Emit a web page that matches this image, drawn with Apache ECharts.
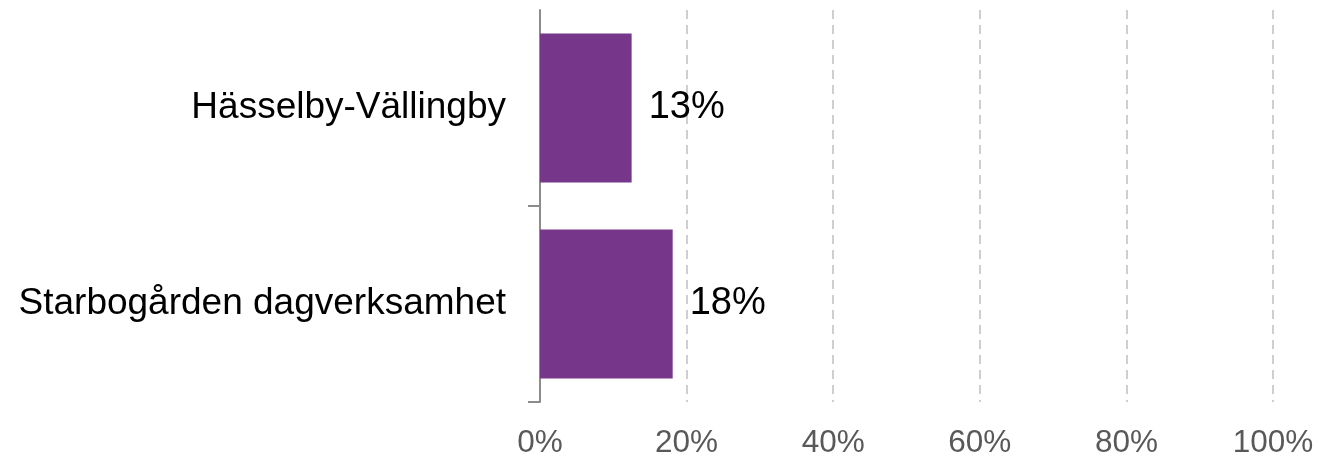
<!DOCTYPE html>
<html>
<head>
<meta charset="utf-8">
<script src="https://cdn.jsdelivr.net/npm/echarts@6/dist/echarts.min.js"></script>
<style>
html,body{margin:0;padding:0;background:#fff;}
#chart{width:1335px;height:456px;}
</style>
</head>
<body>
<div id="chart"></div>
<script>
const categories = ['Hässelby-Vällingby', 'Starbogården dagverksamhet'];
const values = [12.5, 18.1];
const xTicks = [0, 20, 40, 60, 80, 100];

const chart = echarts.init(document.getElementById('chart'), null, {renderer: 'canvas'});
chart.setOption({
  animation: false,
  backgroundColor: '#ffffff',
  grid: {left: 540, right: 62, top: 10, bottom: 54, containLabel: false, outerBoundsMode: 'none'},
  xAxis: {
    type: 'value',
    min: xTicks[0],
    max: xTicks[xTicks.length - 1],
    interval: xTicks[1] - xTicks[0],
    axisLine: {show: false},
    axisTick: {show: false},
    axisLabel: {
      formatter: '{value}%',
      color: '#595959',
      fontFamily: 'Liberation Sans, Arial, sans-serif',
      fontSize: 31.5,
      margin: 25
    },
    splitLine: {
      show: true,
      lineStyle: {color: '#c0c0c0', width: 1.5, type: [9, 6]}
    }
  },
  yAxis: [{
    type: 'category',
    inverse: true,
    data: categories,
    axisLine: {show: true, lineStyle: {color: '#8c8c8c', width: 2}},
    axisTick: {show: false},
    axisLabel: {
      color: '#000000',
      fontFamily: 'Liberation Sans, Arial, sans-serif',
      fontSize: 37,
      margin: 34
    },
    splitLine: {show: false}
  }, {
    type: 'value',
    position: 'left',
    inverse: true,
    min: 0,
    max: categories.length,
    interval: 1,
    axisLine: {show: false},
    axisTick: {
      show: true, length: 12,
      customValues: categories.map((c, i) => i + 1),
      lineStyle: {color: '#8c8c8c', width: 2}
    },
    axisLabel: {show: false},
    splitLine: {show: false}
  }],
  series: [{
    type: 'bar',
    yAxisIndex: 0,
    data: values,
    barCategoryGap: '24%',
    itemStyle: {color: '#76378a'},
    label: {
      show: true,
      position: 'right',
      distance: 17,
      color: '#000000',
      fontFamily: 'Liberation Sans, Arial, sans-serif',
      fontSize: 38,
      formatter: p => Math.round(p.value) + '%'
    }
  }]
});
</script>
</body>
</html>
